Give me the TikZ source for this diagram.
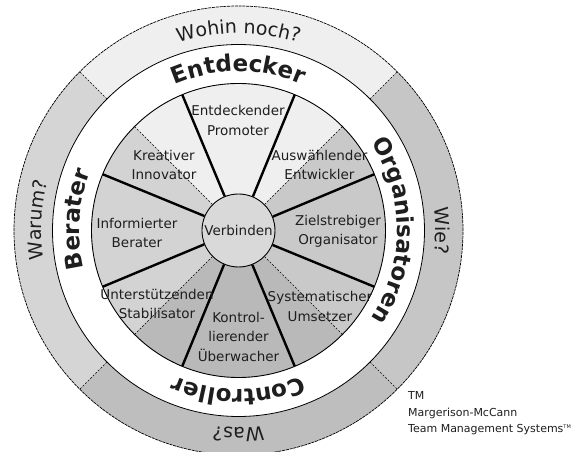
\documentclass[tikz,border=0pt]{standalone}
\usepackage{fontspec}
\setmainfont{DejaVu Sans}
\usetikzlibrary{decorations.text}
\definecolor{ringtop}{HTML}{EFEFEF}
\definecolor{ringleft}{HTML}{D5D5D5}
\definecolor{ringright}{HTML}{C6C6C6}
\definecolor{ringbottom}{HTML}{BEBEBE}
\definecolor{wheeltop}{HTML}{EFEFEF}
\definecolor{wheelleft}{HTML}{D3D3D3}
\definecolor{wheelright}{HTML}{C9C9C9}
\definecolor{wheelbottom}{HTML}{B9B9B9}
\definecolor{hubgray}{HTML}{D9D9D9}
\definecolor{inkgray}{HTML}{1E1E1E}
\newcommand{\ringfont}{\fontsize{19}{19}\selectfont}
\newcommand{\rolefont}{\fontsize{23}{23}\selectfont\bfseries}
\tikzset{
  spoke/.style={line width=2.4pt},
  splitline/.style={dash pattern=on 2pt off 1.6pt, line width=0.5pt},
  rimline/.style={dash pattern=on 3pt off 0.8pt, line width=0.7pt},
  sector/.style={font=\fontsize{13.5}{19.5}\selectfont, align=center, text=inkgray, inner sep=0pt},
  ringtext/.style={decorate, decoration={text along path, text align=center, text={#1}}},
}

\begin{document}
\begin{tikzpicture}[x=1pt,y=1pt]
    \useasboundingbox (-238.5,-221.5) rectangle (343.5,230.5);
    \foreach \a/\c in {45/ringtop,135/ringleft,225/ringbottom,315/ringright}
    \fill[\c] (0,0) -- (\a:224.5) arc[start angle=\a, delta angle=90, radius=224.5] -- cycle;
    \draw[rimline] (0,0) circle[radius=224.5];
    \foreach \a in {45,135,225,315}
    \draw[splitline] (\a:186) -- (\a:224.5);
    \draw[fill=white, line width=0.8pt] (0,0) circle[radius=186];
    \foreach \a/\c in {45/wheeltop,135/wheelleft,225/wheelbottom,315/wheelright}
    \fill[\c] (0,0) -- (\a:147) arc[start angle=\a, delta angle=90, radius=147] -- cycle;
    \draw[line width=0.9pt] (0,0) circle[radius=147];
    \node[circle, draw, line width=0.9pt, fill=hubgray, minimum size=73pt, sector] (hub) at (0,0) {Verbinden};
    \foreach \a in {45,135,225,315}
    \draw[splitline] (hub.\a) -- (\a:147);
    \foreach \a in {22.5,67.5,...,337.5}
    \draw[spoke] (hub.\a) -- (\a:147);
    \node[sector] (promoter) at (-0.5,110) {Entdeckender\\Promoter};
    \node[sector] (innovator) at (-74.5,65.5) {Kreativer\\Innovator};
    \node[sector] (entwickler) at (81,65.5) {Auswählender\\Entwickler};
    \node[sector] (berater) at (-101.5,-2.5) {Informierter\\Berater};
    \node[sector] (organisator) at (99.5,-1) {Zielstrebiger\\Organisator};
    \node[sector] (stabilisator) at (-81.5,-73.5) {Unterstützenden\\Stabilisator};
    \node[sector] (umsetzer) at (81.5,-76) {Systematischer\\Umsetzer};
    \node[sector] (ueberwacher) at (0,-106) {Kontrol-\\lierender\\Überwacher};
    \path[ringtext={|\color{inkgray}\rolefont|Entdecker}] (150:159) arc[start angle=150, end angle=30, radius=159];
    \path[ringtext={|\color{inkgray}\rolefont|Organisatoren}] (60:159) arc[start angle=60, end angle=-60, radius=159];
    \path[ringtext={|\color{inkgray}\rolefont|Controller}] (330:159) arc[start angle=330, end angle=210, radius=159];
    \path[ringtext={|\color{inkgray}\rolefont|Berater}] (236:159) arc[start angle=236, end angle=116, radius=159];
    \path[ringtext={|\color{inkgray}\ringfont|Wohin noch?}] (150:197) arc[start angle=150, end angle=30, radius=197];
    \path[ringtext={|\color{inkgray}\ringfont|Wie?}] (60:197) arc[start angle=60, end angle=-60, radius=197];
    \path[ringtext={|\color{inkgray}\ringfont|Was?}] (330:197) arc[start angle=330, end angle=210, radius=197];
    \path[ringtext={|\color{inkgray}\ringfont|Warum?}] (237:197) arc[start angle=237, end angle=117, radius=197];
    \node[anchor=west, align=left, inner sep=0pt, font=\fontsize{11}{16.5}\selectfont, text=inkgray] (tmnote) at (169.5,-183) {TM\\Margerison-McCann\\Team Management Systems\textsuperscript{\tiny TM}};
\end{tikzpicture}
\end{document}
